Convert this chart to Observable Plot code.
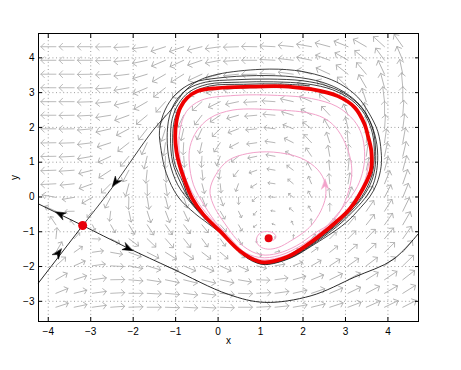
<!DOCTYPE html>
<html><head><meta charset="utf-8">
<script src="https://cdn.jsdelivr.net/npm/d3@7"></script>
<script src="https://cdn.jsdelivr.net/npm/@observablehq/plot@0.6"></script>
<style>body{margin:0;background:#fff}#chart{position:absolute;left:0;top:0}</style>
</head><body><div id="chart"></div>
<script>
const xTicks = [-4,-3,-2,-1,0,1,2,3,4];
const yTicks = [-3,-2,-1,0,1,2,3,4];
// arrow tail positions of the direction field
const fieldX = [-3.82,-3.39,-2.96,-2.53,-2.10,-1.67,-1.24,-0.81,-0.38,0.05,0.48,0.91,1.34,1.77,2.20,2.63,3.06,3.49,3.92,4.35];
const fieldY = [4.32,3.93,3.53,3.14,2.74,2.35,1.96,1.56,1.17,0.77,0.38,-0.01,-0.41,-0.80,-1.20,-1.59,-1.98,-2.38,-2.77,-3.17];
// on-screen arrow direction (degrees, 0 = right, 90 = up), one row per fieldY
const fieldAngle = [
[180,180,180,181,183,188,198,199,194,188,182,179,177,174,170,165,158,150,138,125],
[180,180,180,182,185,192,203,205,199,191,184,180,177,173,168,160,150,140,126,113],
[180,180,181,183,187,197,210,212,205,195,186,181,177,172,164,155,142,130,115,102],
[180,180,181,184,190,203,218,221,212,200,189,182,176,170,160,150,135,120,105,95],
[180,180,182,186,194,210,228,232,222,206,192,183,176,167,156,143,125,108,97,90],
[180,181,183,189,200,220,240,244,233,214,196,185,175,163,150,133,112,98,90,86],
[180,181,185,193,208,232,252,257,245,224,201,186,173,158,142,120,102,92,86,83],
[181,182,187,198,218,245,262,267,257,236,208,188,171,153,133,108,94,86,82,80],
[181,183,190,205,230,256,269,274,267,249,218,192,170,148,124,100,88,82,78,77],
[182,184,194,213,242,264,274,279,276,262,232,200,170,143,118,96,84,78,75,75],
[183,186,200,225,255,271,279,284,285,276,250,212,172,140,113,95,80,68,68,71],
[170,190,210,242,268,279,284,289,292,290,272,222,174,142,118,95,70,60,63,68],
[156,181,229,263,282,288,291,295,299,301,296,230,172,140,120,90,60,55,58,64],
[124,129,296,300,301,303,305,307,309,312,300,215,160,115,95,48,50,52,55,60],
[84,47,357,333,323,316,311,308,306,305,300,265,90,85,50,45,45,46,50,55],
[60,35,8,350,340,333,328,325,323,320,318,325,15,35,35,38,40,42,44,50],
[42,24,8,357,349,343,339,337,336,335,335,345,10,22,30,33,35,37,39,44],
[30,18,8,1,355,351,348,346,346,347,350,358,8,16,22,26,29,32,34,38],
[22,14,8,3,0,357,355,353,353,355,358,3,8,13,19,23,26,28,30,32],
[18,12,8,4,2,0,358,357,357,358,0,3,6,10,14,18,21,24,26,27]
];
// arrow lengths (pixels)
const fieldLen = [
[15,15,15,15,15,15,15,15,15,15,15,15,15,15,15,15,15,15,15,15],
[15,15,15,15,15,15,15,15,15,15,15,15,15,15,15,15,15,15,15,15],
[15,15,15,15,15,15,15,15,15,15,15,15,15,15,15,15,15,15,15,15],
[15,15,15,15,15,15,15,15,15,15,15,15,15,15,15,15,15,15,15,15],
[15,15,15,15,15,15,14,14,13,13,13,13,13,13,13,13,13,14,15,15],
[15,15,15,15,15,14,14,13,12,12,12,12,12,12,12,12,12,13,14,15],
[15,15,15,15,14,14,13,12,12,11,11,11,11,11,11,11,12,13,14,15],
[15,15,15,14,14,13,13,12,11,11,10,10,10,10,11,11,12,13,14,15],
[15,15,15,14,13,13,12,11,11,10,9,9,9,9,10,11,12,13,14,15],
[15,15,14,14,13,13,12,11,10,9,8,8,8,8,9,10,12,13,14,15],
[15,14,14,13,13,12,12,11,10,9,8,7,7,7,8,10,11,13,14,15],
[14,12,12,12,12,12,12,11,10,9,7,6,6,6,7,9,11,13,14,15],
[12,9,8,10,11,12,12,11,10,9,7,5,4,5,6,8,11,13,14,15],
[10,6,6,9,11,12,12,11,10,9,7,4,3,4,6,8,11,13,14,15],
[11,8,8,10,12,12,12,11,10,9,7,4,2,4,6,9,11,13,14,15],
[12,10,11,12,13,13,13,12,11,10,8,6,5,6,8,10,12,13,14,15],
[13,12,13,13,14,14,14,13,13,12,11,10,10,10,11,12,13,14,14,15],
[13,13,14,14,14,14,14,14,14,14,13,13,13,13,13,14,14,14,15,15],
[13,13,14,14,14,14,14,14,14,14,14,14,14,14,14,14,14,15,15,15],
[13,13,14,14,14,14,14,14,14,14,14,14,14,14,14,14,14,15,15,15]
];
// limit cycle (red)
const cycleX = [2.19,1.53,0.75,-0.02,-0.49,-0.73,-0.89,-0.98,-1.01,-0.98,-0.92,-0.78,-0.61,-0.35,0.05,0.52,0.94,1.11,1.65,2.05,2.71,3.11,3.50,3.60,3.61,3.53,3.45,3.22,2.82,2.19];
const cycleY = [3.10,3.18,3.17,3.13,3.04,2.85,2.57,2.18,1.74,1.31,0.97,0.45,-0.04,-0.50,-0.99,-1.56,-1.85,-1.88,-1.71,-1.42,-0.79,-0.33,0.45,0.77,1.31,1.75,2.09,2.57,2.90,3.10];
// stable manifold (upper branch) winding onto the cycle (black)
const spiralX = [-3.19,-2.50,-1.53,-1.10,-0.78,-0.47,0.00,1.01,1.80,2.42,2.89,3.29,3.53,3.76,3.84,3.84,3.74,3.58,3.36,2.99,2.19,1.72,1.18,0.94,0.63,0.24,-0.24,-0.55,-0.94,-1.22,-1.34,-1.38,
 -1.25,-1.00,-0.60,0.00,0.90,1.80,2.45,2.95,3.35,3.60,3.74,3.75,3.65,3.45,3.15,2.80,2.15,1.68,1.15,0.95,0.60,0.20,-0.28,-0.62,-0.95,-1.14,-1.20,-1.15,
 -1.00,-0.72,-0.30,0.40,1.20,2.00,2.60,3.10,3.45,3.65,3.71,3.69,3.58,3.38,3.10,2.78,2.12,1.66,1.13,0.95,0.56,0.15,-0.30,-0.65,-0.88,-1.07,-1.12,-1.08,
 -0.93,-0.68,-0.25,0.50,1.30,2.10,2.70,3.15,3.45,3.63,3.68,3.65,3.55,3.32,3.00,2.75,2.10,1.65,1.12,0.95,0.54,0.10,-0.32,-0.66,-0.83,-1.03,-1.07,-1.03,-0.90,-0.65,-0.20,0.60,1.40,2.15];
const spiralY = [-0.82,0.26,1.92,2.52,3.05,3.34,3.53,3.67,3.64,3.48,3.24,2.87,2.46,1.89,1.31,0.88,0.39,0.02,-0.30,-0.76,-1.42,-1.75,-1.94,-1.91,-1.71,-1.22,-0.76,-0.47,0.00,0.68,1.34,1.92,
 2.50,2.95,3.28,3.42,3.49,3.45,3.30,3.03,2.63,2.12,1.50,0.90,0.35,-0.05,-0.45,-0.85,-1.43,-1.76,-1.93,-1.90,-1.67,-1.18,-0.66,-0.20,0.35,1.00,1.70,2.30,
 2.75,3.10,3.30,3.37,3.39,3.34,3.18,2.88,2.45,1.92,1.32,0.80,0.35,-0.05,-0.45,-0.82,-1.43,-1.75,-1.91,-1.89,-1.62,-1.10,-0.60,-0.12,0.40,1.00,1.70,2.25,
 2.68,3.02,3.24,3.30,3.31,3.25,3.08,2.78,2.38,1.85,1.30,0.78,0.38,-0.10,-0.50,-0.82,-1.43,-1.74,-1.90,-1.88,-1.60,-1.04,-0.56,-0.08,0.42,1.00,1.70,2.20,2.60,2.95,3.19,3.24,3.25,3.20];
// saddle separatrices (black)
const stableLowX = [-4.23,-3.19], stableLowY = [-2.47,-0.82];
const unstableLeftX = [-3.19,-4.23], unstableLeftY = [-0.82,-0.20];
const unstableRightX = [-3.19,-2.12,-1.10,0.24,1.10,2.19,3.22,4.12,4.72];
const unstableRightY = [-0.82,-1.47,-2.05,-2.80,-3.03,-2.84,-2.30,-1.80,-1.05];
// trajectory spiralling out of the focus (pink)
const pinkX = [1.19,1.30,1.36,1.29,1.13,0.97,0.90,0.98,1.17,1.42,1.70,2.00,2.20,2.42,2.53,2.52,2.35,1.95,1.30,0.70,0.24,-0.05,-0.19,-0.12,0.15,0.60,1.01,1.41,1.85,2.28,2.66,
 2.89,3.08,3.15,3.06,2.82,2.56,2.19,1.41,0.35,-0.19,-0.50,-0.66,-0.68,-0.58,-0.32,0.02,0.50,0.98,1.45,1.95,2.42,2.72,
 3.00,3.28,3.42,3.45,3.38,3.20,2.80,2.20,1.40,0.40,-0.40,-0.75,-0.90,-0.92,-0.85,-0.70,-0.50,-0.22,0.15,0.58,0.97,1.45,2.00,2.60,3.05,3.45,3.55];
const pinkY = [-1.19,-1.24,-1.13,-1.03,-0.99,-1.06,-1.24,-1.42,-1.50,-1.45,-1.27,-1.03,-0.81,-0.40,0.00,0.40,0.78,1.12,1.29,1.25,1.05,0.65,0.20,-0.20,-0.75,-1.42,-1.66,-1.62,-1.40,-1.04,-0.74,
 -0.38,0.19,0.77,1.34,1.92,2.22,2.40,2.50,2.50,2.27,1.90,1.45,1.00,0.35,-0.25,-0.85,-1.50,-1.74,-1.68,-1.40,-1.00,-0.62,
 -0.20,0.30,0.80,1.30,1.80,2.20,2.60,2.83,2.92,2.92,2.78,2.45,1.90,1.35,0.85,0.35,-0.10,-0.55,-1.00,-1.55,-1.80,-1.74,-1.44,-0.88,-0.35,0.45,1.00];
// arrowheads on the separatrices and the pink orbit
const headX = [-3.72,-2.12,-2.42,-3.76], headY = [-0.49,-1.48,0.42,-1.61], headAngle = [153,334,233,53];
const pinkHeadX = [2.52], pinkHeadY = [0.37], pinkHeadAngle = [90];
// equilibria: saddle and focus
const saddle = {x: -3.19, y: -0.82}, focus = {x: 1.19, y: -1.19};

const field = [];
fieldY.forEach((y, j) => fieldX.forEach((x, i) => field.push({x, y, a: fieldAngle[j][i], len: fieldLen[j][i]})));
const pts = (X, Y) => X.map((x, i) => ({x, y: Y[i]}));
const headShape = {draw(ctx, l, r) { ctx.moveTo(0, -l); ctx.lineTo(r, 0); ctx.lineTo(0, -l * 0.3); ctx.lineTo(-r, 0); ctx.closePath(); }};
const heads = headX.map((x, i) => ({x, y: headY[i], a: headAngle[i]}));
const pinkHeads = pinkHeadX.map((x, i) => ({x, y: pinkHeadY[i], a: pinkHeadAngle[i]}));
const sepStyle = {x: "x", y: "y", stroke: "#111", strokeWidth: 0.9};
const pink = "#f2a2ca";

const chart = Plot.plot({
  width: 461, height: 370,
  marginLeft: 38, marginRight: 43, marginTop: 33, marginBottom: 49,
  style: {fontFamily: "'Liberation Sans', Arial, sans-serif", fontSize: "10px", background: "#fff", color: "#000"},
  x: {domain: [-4.23, 4.72]},
  y: {domain: [-3.58, 4.70]},
  length: {domain: [0, 20], range: [0, 20]},
  marks: [
    Plot.ruleX(xTicks, {stroke: "#666", strokeDasharray: "1,2.6", strokeWidth: 0.9, strokeOpacity: 0.7}),
    Plot.ruleY(yTicks, {stroke: "#666", strokeDasharray: "1,2.6", strokeWidth: 0.9, strokeOpacity: 0.7}),
    Plot.vector(field, {x: "x", y: "y", rotate: d => 90 - d.a, length: "len", anchor: "start", stroke: "#aaaaaa", strokeWidth: 0.8, r: 4}),
    Plot.line(pts(pinkX, pinkY), {x: "x", y: "y", stroke: pink, strokeWidth: 1, curve: "catmull-rom"}),
    Plot.line(pts(spiralX, spiralY), {...sepStyle, strokeWidth: 0.8, curve: "catmull-rom"}),
    Plot.line(pts(stableLowX, stableLowY), sepStyle),
    Plot.line(pts(unstableLeftX, unstableLeftY), sepStyle),
    Plot.line(pts(unstableRightX, unstableRightY), {...sepStyle, curve: "catmull-rom"}),
    Plot.line(pts(cycleX, cycleY), {x: "x", y: "y", stroke: "#ee0000", strokeWidth: 3.8, curve: "catmull-rom"}),
    Plot.vector(heads, {x: "x", y: "y", rotate: d => 90 - d.a, length: 10, r: 3.8, anchor: "middle", shape: headShape, fill: "#000", stroke: "#000", strokeWidth: 0.5}),
    Plot.vector(pinkHeads, {x: "x", y: "y", rotate: d => 90 - d.a, length: 10, r: 3.6, anchor: "middle", shape: headShape, fill: pink, stroke: pink, strokeWidth: 0.5}),
    Plot.dot([saddle], {x: "x", y: "y", r: 4.5, fill: "#e8000b", stroke: "none"}),
    Plot.dot([focus], {x: "x", y: "y", r: 4, fill: "#e8000b", stroke: "none"}),
    Plot.frame({stroke: "#000", strokeWidth: 1}),
    Plot.axisX(xTicks, {anchor: "bottom", tickSize: -4, tickPadding: 10, label: null}),
    Plot.axisX(xTicks, {anchor: "top", tickSize: -4, tickFormat: () => "", label: null}),
    Plot.axisY(yTicks, {anchor: "left", tickSize: -4, tickPadding: 8, label: null}),
    Plot.axisY(yTicks, {anchor: "right", tickSize: -4, tickFormat: () => "", label: null}),
    Plot.text(["x"], {frameAnchor: "bottom", dy: 22, text: d => d, fontSize: 10}),
    Plot.text(["y"], {frameAnchor: "left", dx: -24, rotate: -90, text: d => d, fontSize: 10, textAnchor: "middle"})
  ]
});
document.getElementById("chart").appendChild(chart);
</script></body></html>
